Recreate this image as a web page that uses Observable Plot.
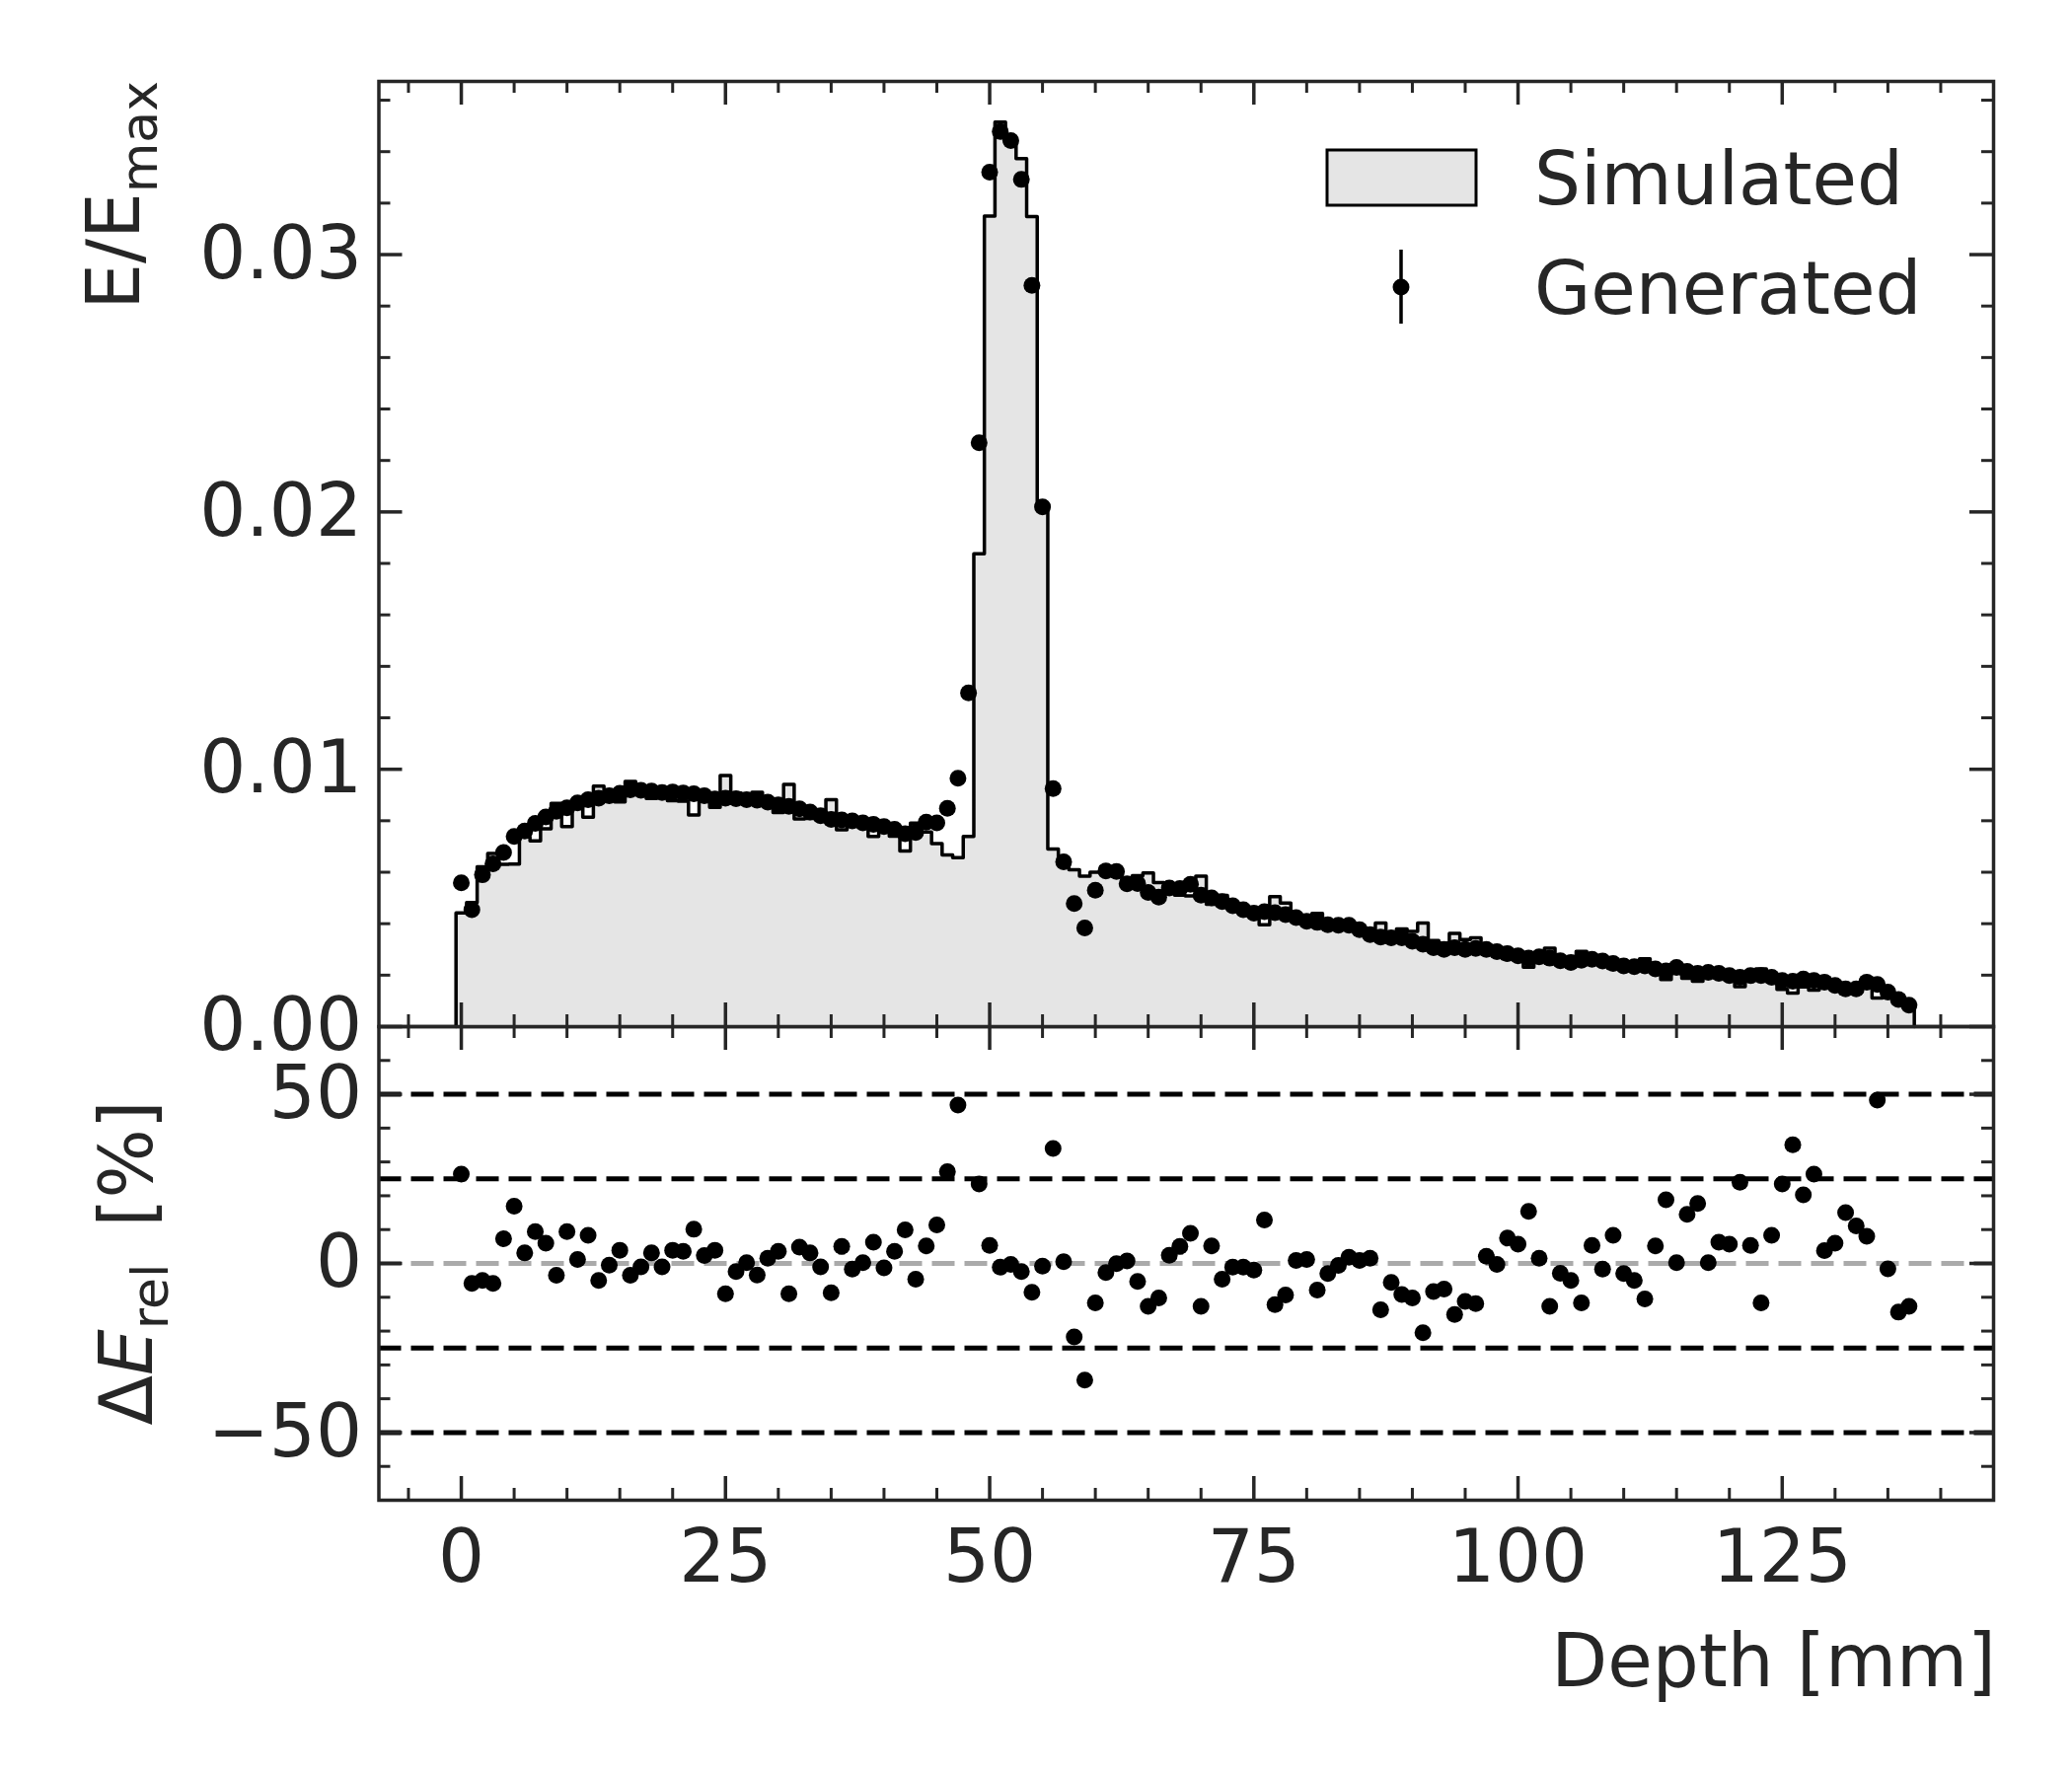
<!DOCTYPE html>
<html><head><meta charset="utf-8">
<script src="https://cdn.jsdelivr.net/npm/d3@7"></script>
<script src="https://cdn.jsdelivr.net/npm/@observablehq/plot@0.6"></script>
<style>
html,body{margin:0;padding:0;background:#fff;}
#fig{position:relative;width:2100px;height:1800px;background:#fff;font-family:"DejaVu Sans";overflow:hidden;}
#fig svg{position:absolute;left:0;overflow:visible;}
</style></head><body><div id="fig"></div>
<script>
// ---------------- data ----------------
const depth = d3.range(0, 138); // bin centres [mm], 1 mm bins
const simulated = [
 0.00442,0.00482,0.00621,0.00673,0.00631,0.00632,0.00737,0.00722,0.00769,0.00867,
 0.00777,0.00859,0.00814,0.00935,0.00902,0.00873,0.00953,0.00927,0.00887,0.00919,
 0.00878,0.00876,0.00822,0.00877,0.00852,0.00976,0.00908,0.00880,0.00911,0.00859,
 0.00832,0.00941,0.00807,0.00809,0.00828,0.00882,0.00765,0.00813,0.00790,0.00739,
 0.00787,0.00740,0.00682,0.00791,0.00756,0.00711,0.00667,0.00657,0.00739,0.01837,
 0.03150,0.03515,0.03450,0.03373,0.03148,0.02030,0.00690,0.00637,0.00610,0.00585,
 0.00600,0.00622,0.00604,0.00551,0.00587,0.00597,0.00560,0.00526,0.00511,0.00508,
 0.00585,0.00475,0.00510,0.00475,0.00459,0.00450,0.00396,0.00505,0.00480,0.00420,
 0.00404,0.00440,0.00408,0.00396,0.00387,0.00374,0.00353,0.00403,0.00365,0.00380,
 0.00370,0.00403,0.00335,0.00325,0.00362,0.00338,0.00345,0.00294,0.00292,0.00264,
 0.00260,0.00231,0.00267,0.00305,0.00264,0.00262,0.00292,0.00249,0.00259,0.00226,
 0.00243,0.00245,0.00264,0.00213,0.00183,0.00230,0.00188,0.00176,0.00211,0.00195,
 0.00187,0.00155,0.00188,0.00224,0.00177,0.00145,0.00130,0.00154,0.00142,0.00167,
 0.00151,0.00128,0.00132,0.00160,0.00111,0.00136,0.00123,0.00095];
const generated = [
 0.00559,0.00454,0.00590,0.00633,0.00677,0.00739,0.00760,0.00790,0.00815,0.00837,
 0.00850,0.00869,0.00882,0.00888,0.00897,0.00907,0.00920,0.00918,0.00915,0.00910,
 0.00912,0.00908,0.00905,0.00897,0.00885,0.00888,0.00886,0.00882,0.00880,0.00872,
 0.00862,0.00856,0.00846,0.00834,0.00820,0.00805,0.00803,0.00799,0.00792,0.00786,
 0.00777,0.00767,0.00750,0.00754,0.00795,0.00792,0.00848,0.00965,0.01297,0.02269,
 0.03320,0.03478,0.03443,0.03292,0.02880,0.02020,0.00925,0.00640,0.00478,0.00383,
 0.00530,0.00605,0.00603,0.00555,0.00556,0.00521,0.00503,0.00539,0.00537,0.00553,
 0.00511,0.00500,0.00486,0.00470,0.00454,0.00441,0.00447,0.00443,0.00435,0.00424,
 0.00409,0.00405,0.00396,0.00394,0.00394,0.00377,0.00358,0.00348,0.00345,0.00345,
 0.00332,0.00320,0.00307,0.00300,0.00307,0.00300,0.00304,0.00300,0.00291,0.00284,
 0.00275,0.00266,0.00271,0.00266,0.00256,0.00249,0.00258,0.00262,0.00255,0.00245,
 0.00236,0.00233,0.00236,0.00224,0.00217,0.00230,0.00215,0.00207,0.00211,0.00207,
 0.00198,0.00192,0.00198,0.00198,0.00192,0.00179,0.00176,0.00185,0.00179,0.00173,
 0.00160,0.00147,0.00147,0.00173,0.00164,0.00134,0.00105,0.00083];
const deltaRel = [
 26.4,-5.9,-5.0,-5.9,7.3,16.9,3.1,9.4,6.0,-3.5,
 9.4,1.2,8.3,-5.0,-0.5,3.9,-3.5,-1.0,3.1,-1.0,
 3.9,3.6,10.1,2.3,3.9,-9.0,-2.4,0.2,-3.4,1.5,
 3.6,-9.0,4.8,3.1,-1.0,-8.7,5.0,-1.7,0.2,6.3,
 -1.3,3.6,9.9,-4.7,5.2,11.4,27.1,46.8,75.5,23.5,
 5.3,-1.1,-0.3,-2.4,-8.5,-0.8,34.0,0.5,-21.7,-34.5,
 -11.7,-2.7,-0.1,0.7,-5.3,-12.7,-10.2,2.4,5.0,8.9,
 -12.7,5.2,-4.7,-1.1,-1.1,-2.0,12.8,-12.2,-9.3,0.9,
 1.2,-7.9,-3.0,-0.6,1.8,0.9,1.5,-13.7,-5.6,-9.2,
 -10.2,-20.5,-8.3,-7.6,-15.1,-11.2,-11.9,2.1,-0.3,7.5,
 5.7,15.4,1.5,-12.7,-2.9,-5.0,-11.7,5.3,-1.7,8.3,
 -3.0,-5.0,-10.5,5.2,18.8,0.2,14.5,17.7,0.2,6.3,
 5.7,24.0,5.3,-11.7,8.3,23.5,35.1,20.3,26.4,3.8,
 6.0,15.0,11.1,8.0,48.3,-1.6,-14.4,-12.7];
const xTickLabels = [0, 25, 50, 75, 100, 125];
const yMainTicks = [0, 0.01, 0.02, 0.03];
const yRatioTicks = [-50, 0, 50];
const ratioGuides = [-50, -25, 25, 50];
const seriesNames = ["Simulated", "Generated"];
const xTitle = "Depth [mm]";

// ---------------- layout ----------------
const W = 2100, H = 1800;
const L = 383.5, R = 2020, T = 82, B = 1040, RB = 1520;
const innerW = R - L;
const ink = "#262626";
const xDomain = [-7.8, 145];
const FS = 74;
const DOT_R = 8.5;

const simTable = depth.map((d, i) => ({depth: d, value: simulated[i]}));
const genTable = depth.map((d, i) => ({depth: d, value: generated[i]}));
const ratioTable = depth.map((d, i) => ({depth: d, value: deltaRel[i]}));
const half = 0.5; // half bin width
const stepPts = [{x: depth[0] - half, y: 0}];
simTable.forEach(b => { stepPts.push({x: b.depth - half, y: b.value}); stepPts.push({x: b.depth + half, y: b.value}); });
stepPts.push({x: depth[depth.length - 1] + half, y: 0});

const xMinor = d3.range(-5, 145, 5).filter(v => !xTickLabels.includes(v));
const yMainMinor = d3.range(1, 19).filter(k => k % 5 !== 0).map(k => k * 0.002);
const yRatioMinor = d3.range(-60, 70, 10).filter(v => v % 50 !== 0);

function boxTicks(xMaj, xMin, yMaj, yMin, ih) {
  const MA = 24, MI = 12;
  return [
    Plot.tickX(xMaj, {x: d => d, insetTop: ih - MA, stroke: ink, strokeWidth: 3.5}),
    Plot.tickX(xMaj, {x: d => d, insetBottom: ih - MA, stroke: ink, strokeWidth: 3.5}),
    Plot.tickX(xMin, {x: d => d, insetTop: ih - MI, stroke: ink, strokeWidth: 3}),
    Plot.tickX(xMin, {x: d => d, insetBottom: ih - MI, stroke: ink, strokeWidth: 3}),
    Plot.tickY(yMaj, {y: d => d, insetRight: innerW - MA, stroke: ink, strokeWidth: 3.5}),
    Plot.tickY(yMaj, {y: d => d, insetLeft: innerW - MA, stroke: ink, strokeWidth: 3.5}),
    Plot.tickY(yMin, {y: d => d, insetRight: innerW - MI, stroke: ink, strokeWidth: 3}),
    Plot.tickY(yMin, {y: d => d, insetLeft: innerW - MI, stroke: ink, strokeWidth: 3})
  ];
}
const style = {fontFamily: "DejaVu Sans", fontSize: FS + "px", color: ink, background: "transparent", overflow: "visible"};

const main = Plot.plot({
  width: W, height: B + 40,
  marginLeft: L, marginRight: W - R, marginTop: T, marginBottom: 40,
  style,
  x: {domain: xDomain, axis: null},
  y: {domain: [0, 0.03673], axis: null},
  marks: [
    Plot.areaY(stepPts, {x: "x", y1: 0, y2: "y", fill: "#e5e5e5"}),
    Plot.line(stepPts, {x: "x", y: "y", stroke: "black", strokeWidth: 3.5}),
    Plot.dot(genTable, {x: "depth", y: "value", r: DOT_R, fill: "black"}),
    ...boxTicks(xTickLabels, xMinor, yMainTicks, yMainMinor, B - T),
    Plot.frame({stroke: ink, strokeWidth: 3.5}),
    Plot.axisY(yMainTicks, {tickFormat: d3.format(".2f"), tickSize: 0, tickPadding: 17, fontSize: FS, label: null})
  ]
});

const ratio = Plot.plot({
  width: W, height: H - B,
  marginLeft: L, marginRight: W - R, marginTop: 0, marginBottom: H - RB,
  style,
  x: {domain: xDomain, axis: null},
  y: {domain: [-70, 70], axis: null},
  marks: [
    Plot.ruleY(ratioGuides, {stroke: "black", strokeWidth: 5, strokeDasharray: "23,10"}),
    Plot.ruleY([0], {stroke: "#aaaaaa", strokeWidth: 5, strokeDasharray: "23,10"}),
    Plot.dot(ratioTable, {x: "depth", y: "value", r: DOT_R, fill: "black", clip: true}),
    ...boxTicks(xTickLabels, xMinor, yRatioTicks, yRatioMinor, RB - B),
    Plot.frame({stroke: ink, strokeWidth: 3.5}),
    Plot.axisY(yRatioTicks, {tickFormat: d3.format("d"), tickSize: 0, tickPadding: 17, fontSize: FS, label: null}),
    Plot.axisX(xTickLabels, {tickSize: 0, tickPadding: 30, fontSize: FS, label: null})
  ]
});

const fig = document.getElementById("fig");
ratio.style.top = B + "px";
ratio.style.zIndex = 1;
main.style.top = "0px";
main.style.zIndex = 2;
fig.appendChild(ratio);
fig.appendChild(main);

// ---------- titles & legend (text) ----------
const gm = d3.select(main);
const yl = gm.append("text")
  .attr("transform", `translate(141,${T}) rotate(-90)`)
  .attr("text-anchor", "end").attr("fill", ink)
  .attr("font-family", "DejaVu Sans").attr("font-size", FS);
yl.append("tspan").text("E/E");
yl.append("tspan").attr("dy", 18).attr("font-size", 52).text("max");

const lg = gm.append("g").attr("font-family", "DejaVu Sans").attr("font-size", FS)
  .attr("fill", ink).attr("text-anchor", "start");
lg.append("rect").attr("x", 1345).attr("y", 152).attr("width", 151).attr("height", 56)
  .attr("fill", "#e5e5e5").attr("stroke", "black").attr("stroke-width", 3);
lg.append("text").attr("x", 1555).attr("y", 180).attr("dy", "0.36em").attr("text-anchor", "start").text(seriesNames[0]);
lg.append("line").attr("x1", 1420).attr("x2", 1420).attr("y1", 253).attr("y2", 328)
  .attr("stroke", "black").attr("stroke-width", 3.5);
lg.append("circle").attr("cx", 1420).attr("cy", 291).attr("r", DOT_R).attr("fill", "black");
lg.append("text").attr("x", 1555).attr("y", 291).attr("dy", "0.36em").attr("text-anchor", "start").text(seriesNames[1]);

const gr = d3.select(ratio);
const rl = gr.append("text")
  .attr("transform", `translate(154,${(RB - B) / 2}) rotate(-90)`)
  .attr("text-anchor", "middle").attr("fill", ink)
  .attr("font-family", "DejaVu Sans").attr("font-size", FS);
rl.append("tspan").text("\u0394");
rl.append("tspan").attr("font-style", "italic").text("E");
rl.append("tspan").attr("dy", 16).attr("font-size", 52).text("rel");
rl.append("tspan").attr("dy", -16).text("\u2002[%]");
gr.append("text").attr("x", R + 3).attr("y", 669).attr("text-anchor", "end")
  .attr("fill", ink).attr("font-family", "DejaVu Sans").attr("font-size", FS).text(xTitle);
</script></body></html>
